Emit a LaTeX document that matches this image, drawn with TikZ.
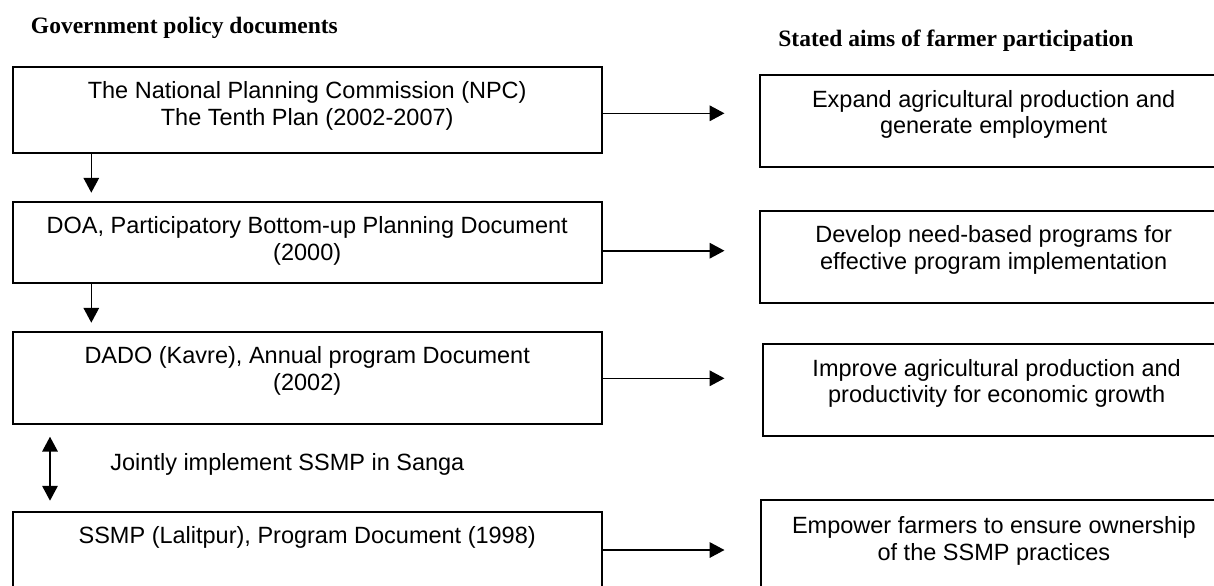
\documentclass[tikz,border=0pt]{standalone}
\usepackage{fontspec}
\usetikzlibrary{arrows.meta}
\newfontfamily\arialf{Liberation Sans}
\newfontfamily\timesf{Liberation Serif}
\tikzset{
  box/.style={draw, line width=1pt, rectangle, inner sep=0pt, outer sep=0pt},
  txt/.style={font=\arialf\fontsize{11.75}{13.35}\selectfont, align=center, inner sep=0pt, anchor=north},
  head/.style={font=\timesf\bfseries\fontsize{11.75}{13.35}\selectfont, inner sep=0pt, anchor=base west},
  arr/.style={line width=0.8pt, -{Triangle[length=7.4pt,width=7.7pt]}},
  darr/.style={line width=0.8pt, {Triangle[length=7.4pt,width=7.7pt]}-{Triangle[length=7.4pt,width=7.7pt]}}
}
\begin{document}
\begin{tikzpicture}[x=0.5pt,y=-0.5pt]
\useasboundingbox (0,0) rectangle (1214,585);
\clip (0,0) rectangle (1214,585);
% headings
\node[head] (h1) at (30.6,33.3) {Government policy documents};
\node[head] (h2) at (778,46.3) {Stated aims of farmer participation};
% left boxes
\node[box, minimum width=294.5pt, minimum height=43pt] (b1) at (307.2,109.7) {};
\node[box, minimum width=294.5pt, minimum height=40.8pt] (b2) at (307.2,242.5) {};
\node[box, minimum width=294.5pt, minimum height=46.15pt] (b3) at (307.2,377.85) {};
\node[box, minimum width=294.5pt, minimum height=46pt] (b4) at (307.2,557.7) {};
\node[txt] (t1) at ([yshift=-5.8pt]b1.north) {\rule{0pt}{10pt}The National Planning Commission (NPC)\\The Tenth Plan (2002-2007)};
\node[txt] (t2) at ([yshift=-5.8pt]b2.north) {\rule{0pt}{10pt}DOA, Participatory Bottom-up Planning Document\\(2000)};
\node[txt] (t3) at ([yshift=-5.8pt]b3.north) {\rule{0pt}{10pt}DADO (Kavre), Annual program Document\\(2002)};
\node[txt] (t4) at ([yshift=-5.8pt]b4.north) {\rule{0pt}{10pt}SSMP (Lalitpur), Program Document (1998)};
% right boxes
\node[box, minimum width=233.35pt, minimum height=45.85pt] (r1) at (993.65,120.85) {};
\node[box, minimum width=233.35pt, minimum height=46pt] (r2) at (993.65,256.7) {};
\node[box, minimum width=233.35pt, minimum height=46pt] (r3) at (996.65,390) {};
\node[box, minimum width=233.35pt, minimum height=46pt] (r4) at (993.85,546) {};
\node[txt] (s1) at ([yshift=-5.8pt]r1.north) {\rule{0pt}{10pt}Expand agricultural production and\\generate employment};
\node[txt] (s2) at ([yshift=-5.8pt]r2.north) {\rule{0pt}{10pt}Develop need-based programs for\\effective program implementation};
\node[txt] (s3) at ([yshift=-5.8pt]r3.north) {\rule{0pt}{10pt}Improve agricultural production and\\productivity for economic growth};
\node[txt] (s4) at ([yshift=-6.5pt]r4.north) {\rule{0pt}{10pt}Empower farmers to ensure ownership\\of the SSMP practices};
% middle label
\node[txt, anchor=base west] (jl) at (110,470) {Jointly implement SSMP in Sanga};
% arrow end points
\coordinate (a1) at (724.5,113.3);
\coordinate (a2) at (724.5,250.7);
\coordinate (a3) at (724.5,378.3);
\coordinate (a4) at (724.5,550);
\coordinate (d1) at (91.3,192.7);
\coordinate (d2) at (91.3,322.7);
\coordinate (j1) at (50,436.7);
\coordinate (j2) at (50,500.7);
% connectors
\draw[arr] (b1.east |- a1) -- (a1);
\draw[arr] (b2.east |- a2) -- (a2);
\draw[arr] (b3.east |- a3) -- (a3);
\draw[arr] (b4.east |- a4) -- (a4);
\draw[arr] (b1.south -| d1) -- (d1);
\draw[arr] (b2.south -| d2) -- (d2);
\draw[darr] (j1) -- (j2);
\end{tikzpicture}
\end{document}
